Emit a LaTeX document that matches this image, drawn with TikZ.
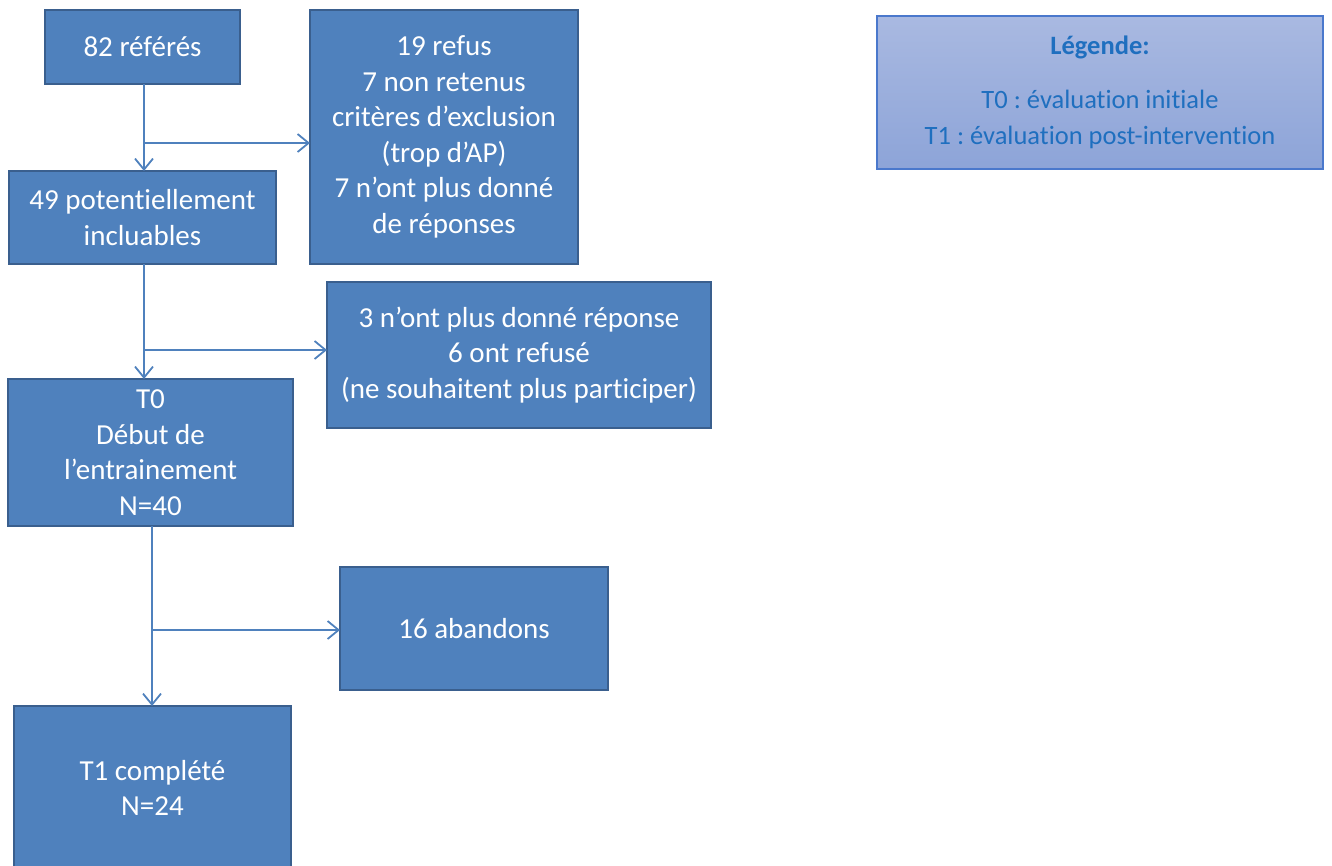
\documentclass[tikz,border=0pt]{standalone}
\usepackage{fontspec}
\setmainfont{Carlito}[RawFeature=-liga]
\frenchspacing
\usetikzlibrary{arrows.meta}
\definecolor{boxfill}{HTML}{4F81BD}
\definecolor{boxline}{HTML}{3A5F8E}
\definecolor{linkcol}{HTML}{4F81BD}
\definecolor{legtop}{HTML}{A9B9E1}
\definecolor{legbot}{HTML}{8DA4D8}
\definecolor{legline}{HTML}{4A78CC}
\definecolor{legtext}{HTML}{1F6FBF}
\tikzset{
  box/.style={draw=boxline, line width=2.5pt, fill=boxfill, text=white, align=center,
    inner sep=0pt, outer sep=0pt, font=\fontsize{29}{35.5}\selectfont},
  link/.style={draw=linkcol, line width=1.8pt, -{Straight Barb[length=11pt,width=18pt,line width=1.8pt]}},
  legendbox/.style={draw=legline, line width=2.2pt, top color=legtop, bottom color=legbot,
    text=legtext, align=center, inner sep=0pt, outer sep=0pt, font=\fontsize{26.5}{36}\selectfont},
}
\begin{document}
\begin{tikzpicture}[x=1pt,y=-1pt]
\useasboundingbox (0,0) rectangle (1332,865);
\node[box, minimum width=195, minimum height=74] (a) at (142.5,47) {82 référés};
\node[box, minimum width=268, minimum height=254] (b) at (444,137) {19 refus\\7 non retenus\\critères d’exclusion\\(trop d’AP)\\7 n’ont plus donné\\de réponses};
\node[box, minimum width=267, minimum height=93] (c) at (142.5,217.5) {49 potentiellement\\incluables};
\node[box, minimum width=384, minimum height=146] (d) at (519,355) {3 n’ont plus donné réponse\\6 ont refusé\\(ne souhaitent plus participer)};
\node[box, minimum width=285, minimum height=147] (e) at (150.5,452.5) {T0\\Début de\\l’entrainement\\N=40};
\node[box, minimum width=268, minimum height=123] (f) at (474,628.5) {16 abandons};
\node[box, minimum width=277, minimum height=164] (g) at (152.5,788) {T1 complété\\N=24};
\node[legendbox, minimum width=446, minimum height=153] (leg) at (1100,92.5)
  {\rule{0pt}{6pt}\textbf{\fontsize{26.5}{30}\selectfont Légende:}\\[18pt]T0 : évaluation initiale\\T1 : évaluation post-intervention};
% connectors
\coordinate (j1) at (144,143);
\coordinate (j2) at (144,350);
\coordinate (j3) at (152,630);
\draw[link] (a.south -| j1) -- (c.north -| j1);
\draw[link] (j1) -- (j1 -| b.west);
\draw[link] (c.south -| j2) -- (e.north -| j2);
\draw[link] (j2) -- (j2 -| d.west);
\draw[link] (e.south -| j3) -- (g.north -| j3);
\draw[link] (j3) -- (j3 -| f.west);
\end{tikzpicture}
\end{document}
